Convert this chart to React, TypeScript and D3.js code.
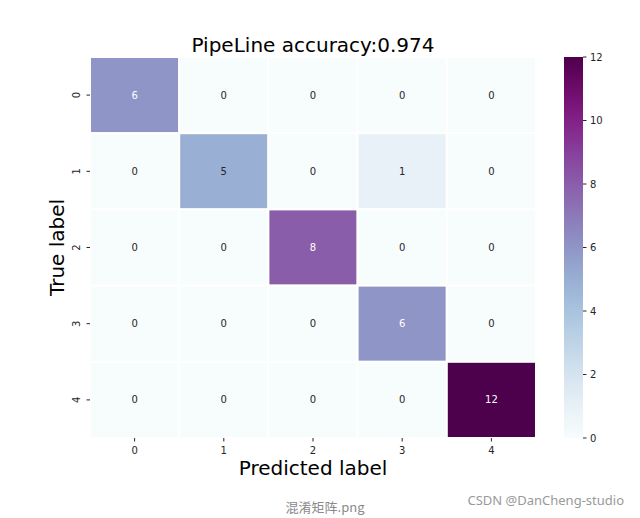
import * as d3 from 'd3';
import React, { useEffect, useRef } from 'react';

const classes = ['0', '1', '2', '3', '4'];
const matrix = [
  [6, 0, 0, 0, 0],
  [0, 5, 0, 1, 0],
  [0, 0, 8, 0, 0],
  [0, 0, 0, 6, 0],
  [0, 0, 0, 0, 12],
];
const colorTicks = [0, 2, 4, 6, 8, 10, 12];
const title = 'PipeLine accuracy:0.974';

// relative luminance, as seaborn uses it to pick the annotation colour
const relLum = (c: string) => {
  const rgb = d3.rgb(c);
  const ch = [rgb.r, rgb.g, rgb.b].map((v) => {
    const s = v / 255;
    return s <= 0.03928 ? s / 12.92 : Math.pow((s + 0.055) / 1.055, 2.4);
  });
  return 0.2126 * ch[0] + 0.7152 * ch[1] + 0.0722 * ch[2];
};

const App: React.FC = () => {
  const ref = useRef<SVGSVGElement | null>(null);

  useEffect(() => {
    if (!ref.current) return;
    const svg = d3.select(ref.current);
    svg.selectAll('*').remove();

    const font = 'DejaVu Sans, sans-serif';
    const left = 90, right = 536, top = 57, bottom = 438;

    const x = d3.scaleBand().domain(classes).range([left, right]);
    const y = d3.scaleBand().domain(classes).range([top, bottom]);
    const color = d3.scaleSequential(d3.interpolateBuPu).domain([0, 12]);

    const cells = matrix.flatMap((row, i) =>
      row.map((v, j) => ({ r: classes[i], c: classes[j], v }))
    );

    const g = svg.append('g');
    g.selectAll('rect')
      .data(cells)
      .enter()
      .append('rect')
      .attr('x', (d) => x(d.c) as number)
      .attr('y', (d) => y(d.r) as number)
      .attr('width', x.bandwidth())
      .attr('height', y.bandwidth())
      .attr('fill', (d) => color(d.v))
      .attr('stroke', 'white')
      .attr('stroke-width', 2);

    g.selectAll('text.val')
      .data(cells)
      .enter()
      .append('text')
      .attr('class', 'val')
      .attr('x', (d) => (x(d.c) as number) + x.bandwidth() / 2)
      .attr('y', (d) => (y(d.r) as number) + y.bandwidth() / 2)
      .attr('dy', '0.35em')
      .attr('text-anchor', 'middle')
      .style('font-family', font)
      .style('font-size', '10px')
      .attr('fill', (d) => (relLum(color(d.v)) > 0.408 ? '#262626' : 'white'))
      .text((d) => d.v);

    // x axis
    const xAxis = svg.append('g');
    classes.forEach((c) => {
      const cx = (x(c) as number) + x.bandwidth() / 2;
      xAxis.append('line').attr('x1', cx).attr('x2', cx).attr('y1', bottom).attr('y2', bottom + 3.5).attr('stroke', '#262626');
      xAxis.append('text').attr('x', cx).attr('y', bottom + 16).attr('text-anchor', 'middle')
        .style('font-family', font).style('font-size', '10px').attr('fill', '#262626').text(c);
    });
    // y axis
    const yAxis = svg.append('g');
    classes.forEach((c) => {
      const cy = (y(c) as number) + y.bandwidth() / 2;
      yAxis.append('line').attr('x1', left - 3.5).attr('x2', left).attr('y1', cy).attr('y2', cy).attr('stroke', '#262626');
      yAxis.append('text').attr('transform', `translate(${left - 10},${cy}) rotate(-90)`).attr('text-anchor', 'middle')
        .style('font-family', font).style('font-size', '10px').attr('fill', '#262626').text(c);
    });

    svg.append('text').attr('x', (left + right) / 2).attr('y', 52).attr('text-anchor', 'middle')
      .style('font-family', font).style('font-size', '20px').attr('fill', 'black').text(title);
    svg.append('text').attr('x', (left + right) / 2).attr('y', 475).attr('text-anchor', 'middle')
      .style('font-family', font).style('font-size', '20px').attr('fill', 'black').text('Predicted label');
    svg.append('text').attr('transform', `translate(64,${(top + bottom) / 2}) rotate(-90)`).attr('text-anchor', 'middle')
      .style('font-family', font).style('font-size', '20px').attr('fill', 'black').text('True label');

    // colorbar
    const cbX = 564, cbW = 19;
    const cy = d3.scaleLinear().domain([0, 12]).range([bottom, top]);
    const defs = svg.append('defs');
    const grad = defs.append('linearGradient').attr('id', 'cbgrad').attr('x1', 0).attr('x2', 0).attr('y1', 1).attr('y2', 0);
    d3.range(0, 1.0001, 0.05).forEach((t) => {
      grad.append('stop').attr('offset', t).attr('stop-color', d3.interpolateBuPu(t));
    });
    svg.append('rect').attr('x', cbX).attr('y', top).attr('width', cbW).attr('height', bottom - top).attr('fill', 'url(#cbgrad)');
    const cbAxis = svg.append('g');
    colorTicks.forEach((t) => {
      cbAxis.append('line').attr('x1', cbX + cbW).attr('x2', cbX + cbW + 3.5).attr('y1', cy(t)).attr('y2', cy(t)).attr('stroke', '#262626');
      cbAxis.append('text').attr('x', cbX + cbW + 7).attr('y', cy(t)).attr('dy', '0.35em')
        .style('font-family', font).style('font-size', '10px').attr('fill', '#262626').text(t);
    });

    // watermarks
    svg.append('text').attr('x', 325).attr('y', 512).attr('text-anchor', 'middle')
      .style('font-family', 'Noto Sans CJK SC, sans-serif').style('font-size', '13px').attr('fill', '#8a8a8a').text('混淆矩阵.png');
    svg.append('text').attr('x', 624).attr('y', 505).attr('text-anchor', 'end')
      .style('font-family', 'Noto Sans, sans-serif').style('font-size', '13px').attr('fill', '#999').text('CSDN @DanCheng-studio');
  }, []);

  return (
    <svg
      ref={ref}
      width={640}
      height={518}
      style={{ position: 'absolute', left: 0, top: 0, background: 'white' }}
    />
  );
};

export default App;
